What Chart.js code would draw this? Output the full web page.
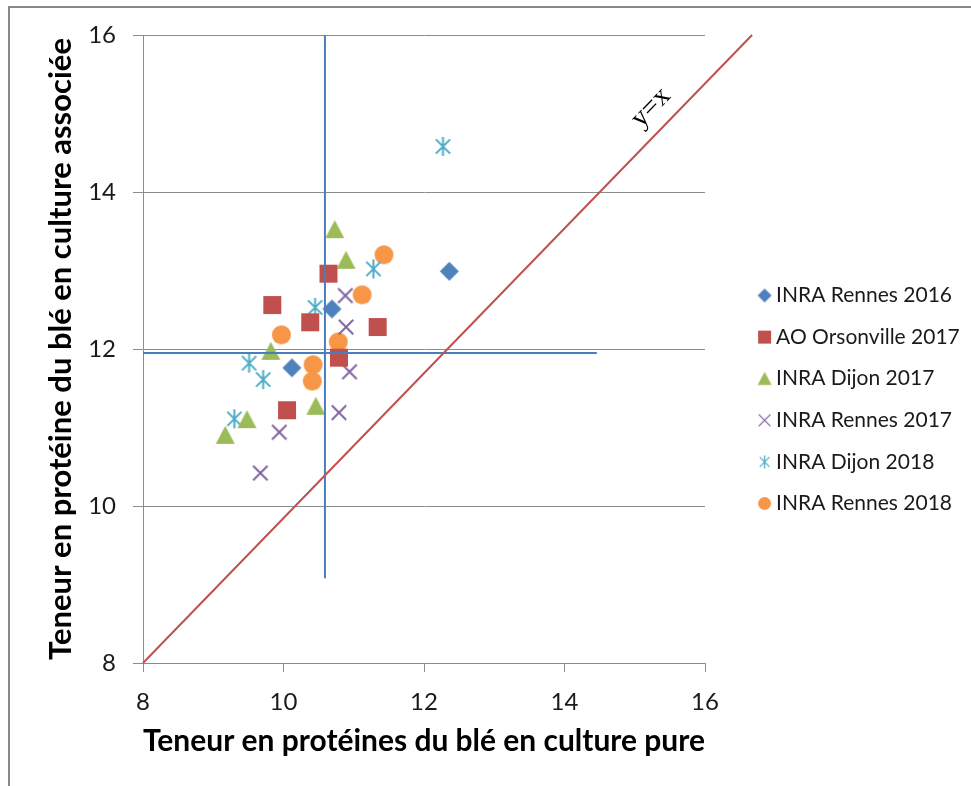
<!DOCTYPE html>
<html>
<head>
<meta charset="utf-8">
<script src="https://cdn.jsdelivr.net/npm/chart.js@4.4.1/dist/chart.umd.min.js"></script>
<style>
    html, body { margin: 0; padding: 0; background: #fff; }
    .wrap { position: relative; width: 971px; height: 786px; overflow: hidden; }
    .frame {
        position: absolute; left: 8px; top: 6px; width: 1000px; height: 1000px;
        border-top: 2px solid #888; border-left: 2px solid #888;
    }
    #proteinChart { position: absolute; left: 0; top: 0; }
</style>
</head>
<body>
<div class="wrap">
    <div class="frame"></div>
    <canvas id="proteinChart" width="971" height="786"></canvas>
</div>
<script>
// ---- data ----
const seriesNames = ['INRA Rennes 2016', 'AO Orsonville 2017', 'INRA Dijon 2017',
                     'INRA Rennes 2017', 'INRA Dijon 2018', 'INRA Rennes 2018'];

const rennes2016X = [12.36, 10.69, 10.12];
const rennes2016Y = [12.99, 12.51, 11.76];

const orsonville2017X = [10.64, 9.84, 10.38, 11.34, 10.79, 10.05];
const orsonville2017Y = [12.96, 12.56, 12.34, 12.28, 11.89, 11.22];

const dijon2017X = [10.73, 10.89, 9.82, 10.46, 9.48, 9.17];
const dijon2017Y = [13.52, 13.13, 11.97, 11.27, 11.10, 10.90];

const rennes2017X = [10.88, 10.89, 10.94, 10.79, 9.94, 9.67];
const rennes2017Y = [12.68, 12.28, 11.71, 11.19, 10.94, 10.42];

const dijon2018X = [12.27, 11.28, 10.45, 9.51, 9.71, 9.30];
const dijon2018Y = [14.58, 13.02, 12.53, 11.82, 11.61, 11.11];

const rennes2018X = [11.43, 11.12, 9.97, 10.78, 10.42, 10.41];
const rennes2018Y = [13.20, 12.69, 12.18, 12.09, 11.80, 11.59];

// y=x reference line and the two mean lines
const identityX = [8, 16.67];
const identityY = [8, 16];
const meanPureX = [10.59, 10.59];
const meanPureY = [9.08, 16];
const meanAssocX = [8, 14.46];
const meanAssocY = [11.95, 11.95];

const axisTicks = [8, 10, 12, 14, 16];

const xTitle = 'Teneur en protéines du blé en culture pure';
const yTitle = 'Teneur en protéine du blé en culture associée';

// ---- helpers ----
function pts(xs, ys) {
    return xs.map((x, i) => ({ x: x, y: ys[i] }));
}

// draws an Excel-like marker into a small canvas, used as pointStyle
function makeMarker(kind, color, size, lineWidth) {
    const c = document.createElement('canvas');
    c.width = c.height = Math.ceil(size) + 4;
    const g = c.getContext('2d');
    const m = c.width / 2;
    const h = size / 2;
    g.fillStyle = color;
    g.strokeStyle = color;
    g.lineWidth = lineWidth || 2;
    g.beginPath();
    if (kind === 'diamond') {
        g.moveTo(m, m - h); g.lineTo(m + h, m); g.lineTo(m, m + h); g.lineTo(m - h, m);
        g.closePath(); g.fill();
    } else if (kind === 'square') {
        g.rect(m - h, m - h, size, size); g.fill();
    } else if (kind === 'triangle') {
        g.moveTo(m, m - h); g.lineTo(m + h, m + h * 0.9); g.lineTo(m - h, m + h * 0.9);
        g.closePath(); g.fill();
    } else if (kind === 'circle') {
        g.arc(m, m, h, 0, Math.PI * 2); g.fill();
    } else if (kind === 'cross') {
        const d = h * 0.9;
        g.moveTo(m - d, m - d); g.lineTo(m + d, m + d);
        g.moveTo(m + d, m - d); g.lineTo(m - d, m + d);
        g.stroke();
    } else if (kind === 'star') {
        const d = h * 0.75;
        g.moveTo(m, m - h); g.lineTo(m, m + h);
        g.moveTo(m - d, m - d); g.lineTo(m + d, m + d);
        g.moveTo(m + d, m - d); g.lineTo(m - d, m + d);
        g.stroke();
    }
    return c;
}

const colors = ['#4F81BD', '#C0504D', '#9BBB59', '#8064A2', '#4BACC6', '#F79646'];
const kinds = ['diamond', 'square', 'triangle', 'cross', 'star', 'circle'];
const chartSizes = [19, 18, 19, 16, 19, 19];
const legendSizes = [14, 13, 14, 13, 13, 13];

const pointMarkers = kinds.map((k, i) => makeMarker(k, colors[i], chartSizes[i], 2));
const legendMarkers = kinds.map((k, i) => makeMarker(k, colors[i], legendSizes[i], 1.3));

function series(i, xs, ys) {
    return {
        label: seriesNames[i],
        data: pts(xs, ys),
        pointStyle: pointMarkers[i],
        pointRadius: 5,
        backgroundColor: colors[i],
        borderColor: colors[i],
        showLine: false
    };
}

function refLine(xs, ys, color) {
    return {
        label: '',
        data: pts(xs, ys),
        showLine: true,
        borderColor: color,
        borderWidth: 2,
        pointRadius: 0,
        fill: false,
        clip: false,
        order: -1,
        isHelper: true
    };
}

// "y=x" label written along the red line
const yEqualsXLabel = {
    id: 'yEqualsXLabel',
    afterDatasetsDraw(chart) {
        const xs = chart.scales.x, ys = chart.scales.y;
        const x0 = xs.getPixelForValue(identityX[0]), y0 = ys.getPixelForValue(identityY[0]);
        const x1 = xs.getPixelForValue(identityX[1]), y1 = ys.getPixelForValue(identityY[1]);
        const ang = Math.atan2(y1 - y0, x1 - x0);
        const t = 0.86, off = 22;
        const px = x0 + (x1 - x0) * t + Math.sin(ang) * off;
        const py = y0 + (y1 - y0) * t - Math.cos(ang) * off;
        const ctx = chart.ctx;
        ctx.save();
        ctx.translate(px, py);
        ctx.rotate(ang);
        ctx.font = '28px "Liberation Serif", serif';
        ctx.fillStyle = '#000';
        ctx.textAlign = 'center';
        ctx.textBaseline = 'middle';
        ctx.fillText('y=x', 0, 0);
        ctx.restore();
    }
};

// legend sits a little to the right of the plot, like in Excel
const legendPlacement = {
    id: 'legendPlacement',
    beforeLayout(chart) {
        const lg = chart.legend;
        if (lg && !lg._fixedWidth) {
            const fit = lg.fit.bind(lg);
            lg.fit = function () { fit(); this.width = 266; };
            lg._fixedWidth = true;
        }
    },
    afterLayout(chart) {
        chart.legend.left += 38;
        chart.legend.right += 38;
    }
};

Chart.defaults.font.family = 'Lato, "Open Sans", sans-serif';

document.addEventListener('DOMContentLoaded', function () {
    const ctx = document.getElementById('proteinChart');

    new Chart(ctx, {
        type: 'scatter',
        data: {
            datasets: [
                series(0, rennes2016X, rennes2016Y),
                series(1, orsonville2017X, orsonville2017Y),
                series(2, dijon2017X, dijon2017Y),
                series(3, rennes2017X, rennes2017Y),
                series(4, dijon2018X, dijon2018Y),
                series(5, rennes2018X, rennes2018Y),
                refLine(identityX, identityY, '#C0504D'),
                refLine(meanPureX, meanPureY, '#4A7EBB'),
                refLine(meanAssocX, meanAssocY, '#4A7EBB')
            ]
        },
        options: {
            responsive: false,
            animation: false,
            events: [],
            layout: {
                padding: { top: 35, left: 0, right: 0, bottom: 22 }
            },
            plugins: {
                tooltip: { enabled: false },
                legend: {
                    position: 'right',
                    align: 'center',
                    labels: {
                        usePointStyle: true,
                        pointStyleWidth: 2,
                        padding: 20.6,
                        color: '#1a1a1a',
                        font: { size: 21 },
                        filter: function (item, data) {
                            return !data.datasets[item.datasetIndex].isHelper;
                        },
                        generateLabels: function (chart) {
                            const items = Chart.defaults.plugins.legend.labels.generateLabels(chart);
                            items.forEach(function (item) {
                                if (item.datasetIndex < legendMarkers.length) {
                                    item.pointStyle = legendMarkers[item.datasetIndex];
                                }
                            });
                            return items;
                        }
                    }
                }
            },
            scales: {
                x: {
                    type: 'linear',
                    min: axisTicks[0],
                    max: axisTicks[axisTicks.length - 1],
                    afterBuildTicks: function (scale) {
                        scale.ticks = axisTicks.map(v => ({ value: v }));
                    },
                    ticks: { padding: 16, color: '#1a1a1a', font: { size: 24 } },
                    grid: { drawOnChartArea: false, tickLength: 9, color: '#8c8c8c' },
                    border: { color: '#8c8c8c' },
                    title: {
                        display: true,
                        text: xTitle,
                        align: 'start',
                        color: '#000',
                        font: { size: 31, weight: 'bold' },
                        padding: { top: 0, bottom: 4 }
                    },
                    afterFit: function (scale) { scale.height = 101; }
                },
                y: {
                    type: 'linear',
                    min: axisTicks[0],
                    max: axisTicks[axisTicks.length - 1],
                    afterBuildTicks: function (scale) {
                        scale.ticks = axisTicks.map(v => ({ value: v }));
                    },
                    ticks: { padding: 17, color: '#1a1a1a', font: { size: 24 } },
                    grid: { tickLength: 10, color: '#8c8c8c' },
                    border: { color: '#8c8c8c' },
                    title: {
                        display: true,
                        text: yTitle,
                        color: '#000',
                        font: { size: 31, weight: 'bold' },
                        padding: { top: 42, bottom: 0 }
                    },
                    afterFit: function (scale) { scale.width = 143; }
                }
            }
        },
        plugins: [legendPlacement, yEqualsXLabel]
    });
});
</script>
</body>
</html>
